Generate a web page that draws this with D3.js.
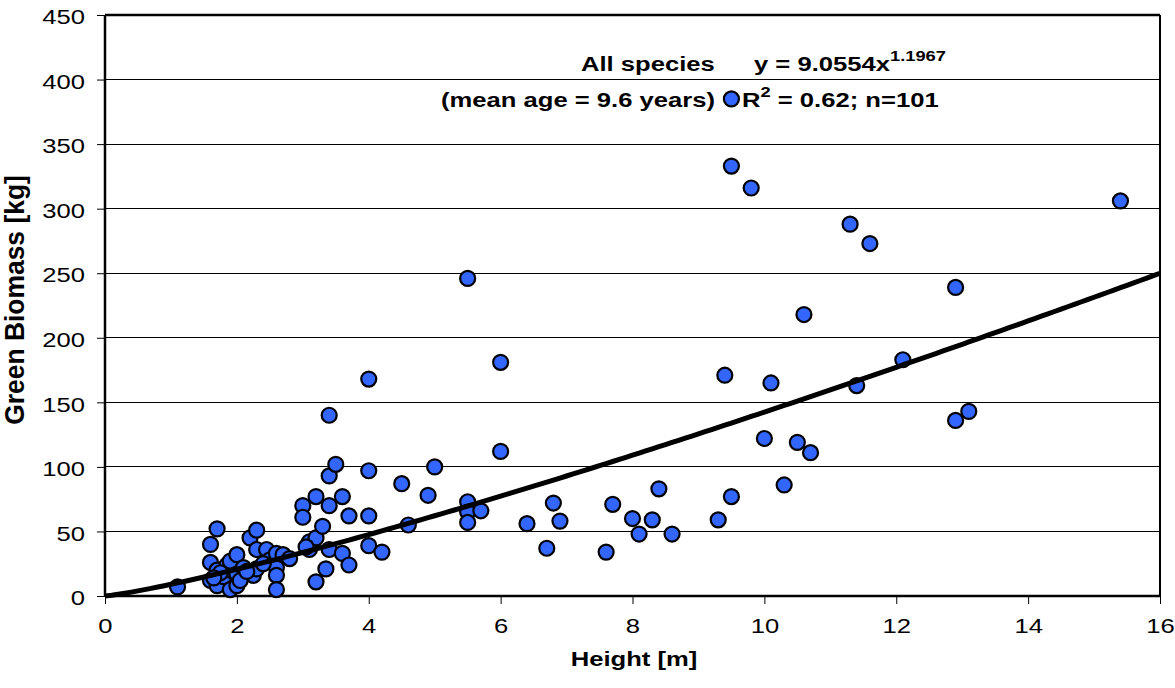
<!DOCTYPE html>
<html><head><meta charset="utf-8">
<script src="https://cdn.jsdelivr.net/npm/d3@7"></script>
<style>body{margin:0;background:#fff}svg{display:block}text{font-family:"Liberation Sans",Arial,sans-serif}</style>
</head><body>
<svg id="chart" width="1175" height="688"></svg>
<script>
const heights = [1.1,1.6,1.6,1.6,1.7,1.7,1.7,1.7,1.8,1.85,1.9,1.9,1.9,2.0,2.0,2.0,2.1,2.2,2.25,2.3,2.3,2.3,2.45,2.5,2.6,2.6,2.6,2.6,2.7,2.8,
3.0,3.0,3.1,3.1,3.2,3.2,3.2,3.3,3.35,3.4,3.4,3.4,3.4,3.5,3.6,3.6,3.7,3.7,4.0,4.0,4.0,4.0,4.2,4.5,4.6,4.9,5.0,5.5,5.5,5.5,5.5,5.7,
6.0,6.0,6.4,6.7,6.8,6.9,7.6,7.7,8.0,8.1,8.3,8.4,8.6,9.3,9.4,9.5,9.5,9.5,9.8,10.0,10.1,10.3,10.5,10.6,10.7,11.3,11.4,11.6,12.1,12.9,12.9,13.1,15.4,
1.75,2.05,2.15,2.4,3.05,1.65];
const biomass = [7,40,26,12,52,20,12,8,15,24,20,5,27,32,17,8,22,45,16,51,36,21,36,28,33,22,16,5,32,29,
70,61,42,36,77,45,11,54,21,140,93,70,36,102,77,33,62,24,168,97,62,39,34,87,55,78,100,246,73,65,57,66,
181,112,56,37,72,58,34,71,60,48,59,83,48,59,171,385,333,77,316,122,165,86,119,218,111,288,163,273,183,239,136,143,306,
18,12,19,25,38,14];
const fitA = 9.0554, fitB = 1.1967;
const xTicks = [0,2,4,6,8,10,12,14,16];
const yTicks = [0,50,100,150,200,250,300,350,400,450];

const SX = 1.22; // horizontal stretch of the reference's text
const svg = d3.select("#chart");
const L = 105, R = 1160, T = 15, B = 596;
const x = d3.scaleLinear().domain([0,16]).range([L,R]);
const y = d3.scaleLinear().domain([0,450]).range([B,T]);

// gridlines
svg.append("g").selectAll("line").data(yTicks.filter(d=>d>0)).join("line")
  .attr("x1",L).attr("x2",R).attr("y1",d=>y(d)).attr("y2",d=>y(d))
  .attr("stroke","#000").attr("stroke-width",1).attr("shape-rendering","crispEdges");
svg.append("line").attr("x1",L).attr("x2",R).attr("y1",T).attr("y2",T).attr("stroke","#000").attr("stroke-width",2.5);
svg.append("line").attr("x1",R).attr("x2",R).attr("y1",T).attr("y2",B).attr("stroke","#000").attr("stroke-width",2);

// axes
const yAxis = d3.axisLeft(y).tickValues(yTicks).tickSize(8).tickPadding(12);
const gy = svg.append("g").attr("transform",`translate(${L},0)`).call(yAxis);
const xAxis = d3.axisBottom(x).tickValues(xTicks).tickSize(8).tickPadding(14);
const gx = svg.append("g").attr("transform",`translate(0,${B})`).call(xAxis);
[gy,gx].forEach(g=>{
  g.select(".domain").attr("stroke","#000").attr("stroke-width",2.5);
  g.selectAll(".tick line").attr("stroke","#000").attr("stroke-width",1);
  g.selectAll(".tick text").attr("font-size",21).attr("fill","#000").attr("font-family","Liberation Sans, Arial, sans-serif");
});
gy.select(".domain").attr("d",`M0,${B}V${T}`);
gx.select(".domain").attr("d",`M${L},0H${R}`);
gy.selectAll(".tick text").each(function(){
  const t = d3.select(this); const tx = +t.attr("x");
  t.attr("x",0).attr("transform",`translate(${tx},2) scale(${SX},1)`);
});
gx.selectAll(".tick text").attr("transform",`scale(${SX},1)`);

// points
svg.append("g").selectAll("circle").data(heights.map((h,i)=>[h,biomass[i]])).join("circle")
  .attr("cx",d=>x(d[0])).attr("cy",d=>y(d[1])).attr("r",7.5)
  .attr("fill","#3366FF").attr("stroke","#000").attr("stroke-width",2.2);

// fit line
const fitXs = d3.range(0,16.001,0.1);
svg.append("path").datum(fitXs)
  .attr("d",d3.line().x(d=>x(d)).y(d=>y(fitA*Math.pow(d,fitB))))
  .attr("fill","none").attr("stroke","#000").attr("stroke-width",5);

// annotations
function label(px,py,size,anchor,bold){
  return svg.append("text").attr("transform",`translate(${px},${py}) scale(${SX},1)`)
    .attr("font-size",size).attr("font-weight",bold?"bold":"normal").attr("text-anchor",anchor).attr("fill","#000");
}
label(581,71,21,"start",true).text("All species");
const t2 = label(754,71,21,"start",true);
t2.append("tspan").text("y = 9.0554x");
t2.append("tspan").attr("dy",-10).attr("font-size",15).text("1.1967");
label(441,107,21,"start",true).text("(mean age = 9.6 years)");
const t4 = label(742,107,21,"start",true);
t4.append("tspan").text("R");
t4.append("tspan").attr("dy",-10).attr("font-size",15).text("2");
t4.append("tspan").attr("dy",10).text(" = 0.62; n=101");

// axis titles
label(634,666,21,"middle",true).text("Height [m]");
svg.append("text").attr("transform","translate(24,300) rotate(-90) scale(1.15,1.2)")
  .attr("text-anchor","middle").attr("font-size",23).attr("font-weight","bold").text("Green Biomass [kg]");
</script>
</body></html>
